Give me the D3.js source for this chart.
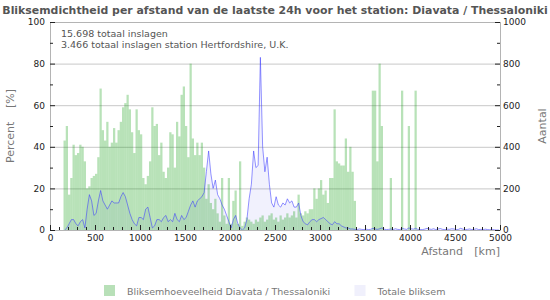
<!DOCTYPE html>
<html>
<head>
<meta charset="utf-8">
<script src="https://cdn.jsdelivr.net/npm/d3@7"></script>
<style>
body { margin: 0; background: #fff; }
svg { display: block; font-family: "DejaVu Sans", Verdana, sans-serif; }
</style>
</head>
<body>
<div id="app"></div>
<script>
const title = "Bliksemdichtheid per afstand van de laatste 24h voor het station: Diavata / Thessaloniki";
const infoLines = ["15.698 totaal inslagen", "3.466 totaal inslagen station Hertfordshire, U.K."];
const seriesNames = ["Bliksemhoeveelheid Diavata / Thessaloniki", "Totale bliksem"];

// distance bins of 25 km
const binKm = 25;
// station share per bin [%], first bin starts at 150 km
const barStartKm = 150;
const barPct = [
    43, 50, 17, 25, 41, 36, 37, 41, 40, 33, 20, 21, 25, 26, 27, 35, 68, 48, 43, 52,
    40, 42, 49, 42, 48, 52, 59, 61, 65, 58, 47, 37, 58, 48, 46, 25, 22, 26, 33, 59,
    50, 51, 36, 42, 28, 25, 30, 47, 46, 30, 52, 45, 65, 69, 50, 35, 80, 44, 36, 42,
    36, 42, 30, 15, 22, 13, 10, 15, 8, 4, 25, 7, 3, 25, 3, 14, 19, 3, 33,
    2, 4, 6, 5, 4, 3, 5, 4, 6, 7, 4, 5, 7, 8, 5, 6, 4, 7, 5, 6,
    8, 6, 7, 9, 6, 17, 8, 7, 9, 8, 10, 10, 20, 15, 20, 24, 17, 19, 13, 25,
    25, 58, 33, 32, 31, 31, 44, 28, 40, 28, 14, 0,
    0, 0, 0, 0, 0, 0, 67, 67, 33, 80, 50, 0, 0, 0, 25, 0, 0, 0, 0, 67,
    0, 0, 50, 0, 0, 67
];
// total strikes per bin (Aantal), first bin starts at 150 km
const lineStartKm = 150;
const lineAantal = [
    0, 10, 30, 50, 50, 30, 20, 40, 50, 10,
    100, 170, 140, 70, 80, 140, 190, 140, 120, 100,
    120, 140, 130, 130, 130, 160, 180, 160, 120, 80,
    50, 30, 20, 60, 60, 50, 100, 110, 60, 10,
    20, 50, 50, 40, 60, 70, 40, 50, 40, 80,
    50, 40, 70, 50, 60, 90, 120, 140, 110, 140,
    150, 160, 180, 280, 380, 270, 200, 240, 170, 150,
    120, 100, 70, 40, 10, 50, 70, 30, 10, 0,
    10, 50, 150, 220, 380, 300, 310, 830, 400, 280,
    350, 220, 130, 110, 160, 120, 110, 130, 120, 150,
    130, 140, 110, 110, 130, 70, 40, 30, 25, 40,
    50, 50, 40, 50, 55, 60, 50, 40, 30, 25,
    40, 30, 30, 20, 15, 10, 10, 5, 5, 3,
    2, 5, 3, 2, 4, 2, 3, 8, 5, 3,
    6, 10, 4, 2, 3, 5, 2, 6, 3, 2,
    8, 5, 3, 10, 6, 4, 8, 3, 2, 2,
    4, 8, 5, 3, 6, 2, 5, 7, 3, 2,
    4, 3, 6, 5, 2, 3, 8, 4, 2, 3,
    5, 2, 3, 6, 2, 3, 2, 4, 2, 1,
    3, 1, 0, 0
];
const xTicks = [0, 500, 1000, 1500, 2000, 2500, 3000, 3500, 4000, 4500, 5000];
const pctTicks = [0, 20, 40, 60, 80, 100];
const aantalTicks = [0, 200, 400, 600, 800, 1000];

const width = 550, height = 300;
const margin = { top: 22, right: 50, bottom: 70, left: 50 };

const svg = d3.select('#app').append('svg')
    .attr('width', width).attr('height', height);

const x = d3.scaleLinear().domain([0, 5000]).range([margin.left, width - margin.right]);
const y = d3.scaleLinear().domain([0, 100]).range([height - margin.bottom, margin.top]);
const yR = d3.scaleLinear().domain([0, 1000]).range([height - margin.bottom, margin.top]);
const fmt = d3.format('d');

const bars = barPct.map((v, i) => ({ km: barStartKm + i * binKm, v }));
const pts = lineAantal.map((v, i) => ({ km: lineStartKm + i * binKm, v }));

// grid
svg.append('g').selectAll('line').data(pctTicks.slice(1)).join('line')
    .attr('x1', x(0)).attr('x2', x(5000))
    .attr('y1', d => y(d) + 0.5).attr('y2', d => y(d) + 0.5)
    .attr('stroke', '#c8c8c8');

// total strikes area
svg.append('path').datum(pts)
    .attr('fill', 'rgb(60,60,225)').attr('fill-opacity', 0.07)
    .attr('d', d3.area().x(d => x(d.km + binKm / 2)).y0(yR(0)).y1(d => yR(d.v)));

// station bars
svg.append('g').selectAll('rect').data(bars.filter(d => d.v > 0)).join('rect')
    .attr('x', d => x(d.km))
    .attr('width', x(binKm) - x(0))
    .attr('y', d => y(d.v))
    .attr('height', d => y(0) - y(d.v))
    .attr('fill', '#14a014').attr('fill-opacity', 0.3);

svg.append('path').datum(pts)
    .attr('fill', 'none').attr('stroke', '#3a3aff').attr('stroke-opacity', 0.55)
    .attr('stroke-width', 1)
    .attr('d', d3.line().x(d => x(d.km + binKm / 2)).y(d => yR(d.v)));

// frame
svg.append('rect')
    .attr('x', x(0) + 0.5).attr('y', y(100) + 0.5)
    .attr('width', x(5000) - x(0)).attr('height', y(0) - y(100))
    .attr('fill', 'none').attr('stroke', '#b4b4b4');

const styleAxis = g => {
    g.select('.domain').remove();
    g.selectAll('line').attr('stroke', '#222');
    g.selectAll('text').attr('fill', '#222').attr('font-size', 9)
        .attr('font-family', '"DejaVu Sans", sans-serif');
};

// left axis
svg.append('g').attr('transform', `translate(${x(0)},0)`)
    .call(d3.axisLeft(y).tickValues(pctTicks).tickFormat(fmt).tickSize(-5).tickPadding(5))
    .call(styleAxis);
svg.append('g').attr('transform', `translate(${x(0)},0)`)
    .call(d3.axisLeft(y).tickValues(d3.range(10, 100, 20)).tickSize(-3).tickFormat(''))
    .call(styleAxis);

// right axis
svg.append('g').attr('transform', `translate(${x(5000)},0)`)
    .call(d3.axisRight(yR).tickValues(aantalTicks).tickFormat(fmt).tickSize(-5).tickPadding(3))
    .call(styleAxis);
svg.append('g').attr('transform', `translate(${x(5000)},0)`)
    .call(d3.axisRight(yR).tickValues(d3.range(100, 1000, 200)).tickSize(-3).tickFormat(''))
    .call(styleAxis);

// bottom axis
svg.append('g').attr('transform', `translate(0,${y(0)})`)
    .call(d3.axisBottom(x).tickValues(xTicks).tickFormat(fmt).tickSize(-5).tickPadding(5))
    .call(styleAxis);
svg.append('g').attr('transform', `translate(0,${y(0)})`)
    .call(d3.axisBottom(x).tickValues(d3.range(100, 5000, 100).filter(d => d % 500)).tickSize(-3).tickFormat(''))
    .call(styleAxis);

// title, fitted to the width
const t = svg.append('text').attr('x', width / 2).attr('y', 14)
    .attr('text-anchor', 'middle').attr('font-weight', 'bold')
    .attr('font-size', 10).attr('fill', '#555').text(title);
const tl = t.node().getComputedTextLength();
t.attr('font-size', 10 * 546 / tl);

// info text
svg.append('g').selectAll('text').data(infoLines).join('text')
    .attr('x', 61).attr('y', (d, i) => 37 + i * 11)
    .attr('font-size', 9.5).attr('fill', '#555').text(d => d);

// axis titles
const axisTitle = { fill: '#777', size: 11 };
svg.append('text').attr('x', x(5000)).attr('y', 255).attr('text-anchor', 'end')
    .attr('font-size', axisTitle.size).attr('fill', axisTitle.fill).text('[km]');
svg.append('text').attr('x', x(5000) - 37).attr('y', 255).attr('text-anchor', 'end')
    .attr('font-size', axisTitle.size).attr('fill', axisTitle.fill).text('Afstand');

svg.append('text').attr('transform', 'translate(13.5,163) rotate(-90)')
    .attr('font-size', axisTitle.size).attr('fill', axisTitle.fill).text('Percent');
svg.append('text').attr('transform', 'translate(13.5,108) rotate(-90)')
    .attr('font-size', axisTitle.size).attr('fill', axisTitle.fill).text('[%]');
svg.append('text').attr('transform', 'translate(546,126) rotate(-90)')
    .attr('text-anchor', 'middle')
    .attr('font-size', axisTitle.size).attr('fill', axisTitle.fill).text('Aantal');

// legend
const legendColors = ['#b8e0b8', '#f0f0fc'];
const legendX = [104, 354.5];
const lg = svg.append('g').selectAll('g').data(seriesNames).join('g')
    .attr('transform', (d, i) => `translate(${legendX[i]},285)`);
lg.append('rect').attr('width', 11).attr('height', 11).attr('fill', (d, i) => legendColors[i]);
lg.append('text').attr('x', 23).attr('y', 9.5).attr('font-size', 9.5).attr('fill', '#777').text(d => d);
</script>
</body>
</html>
